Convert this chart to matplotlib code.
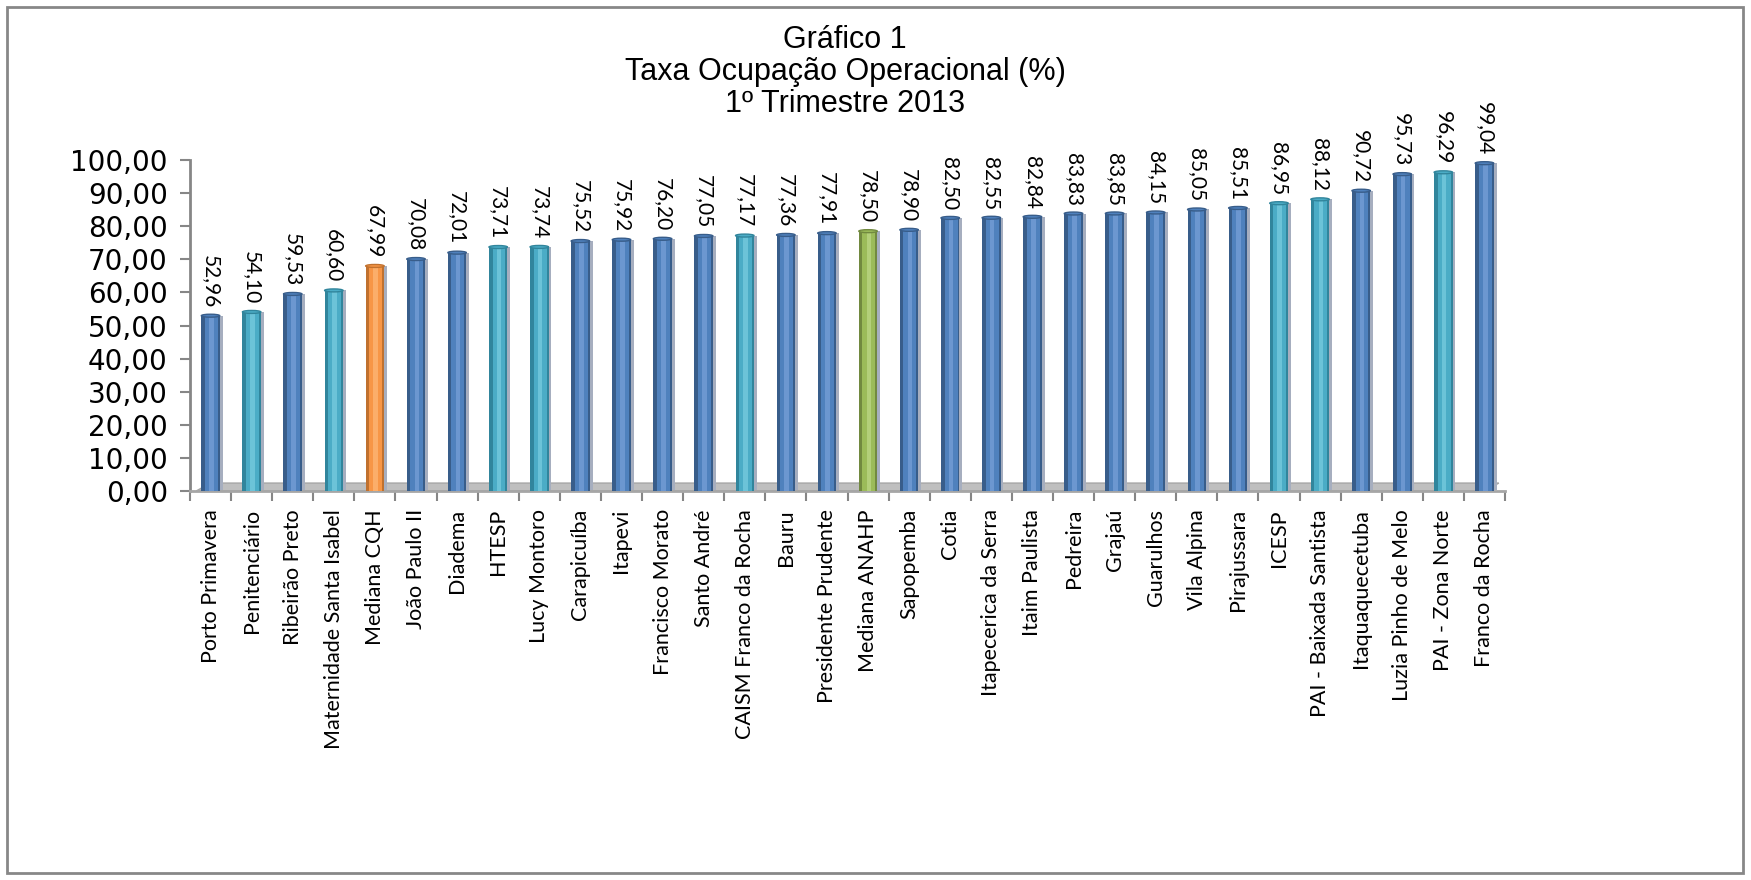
import matplotlib
matplotlib.use("Agg")
import matplotlib.pyplot as plt
from matplotlib.patches import Rectangle, Polygon, Ellipse
import numpy as np

# dados do gráfico
unidades = ["Porto Primavera", "Penitenciário", "Ribeirão Preto", "Maternidade Santa Isabel",
            "Mediana CQH", "João Paulo II", "Diadema", "HTESP", "Lucy Montoro", "Carapicuíba",
            "Itapevi", "Francisco Morato", "Santo André", "CAISM Franco da Rocha", "Bauru",
            "Presidente Prudente", "Mediana ANAHP", "Sapopemba", "Cotia", "Itapecerica da Serra",
            "Itaim Paulista", "Pedreira", "Grajaú", "Guarulhos", "Vila Alpina", "Pirajussara",
            "ICESP", "PAI - Baixada Santista", "Itaquaquecetuba", "Luzia Pinho de Melo",
            "PAI - Zona Norte", "Franco da Rocha"]
taxas = [52.96, 54.10, 59.53, 60.60, 67.99, 70.08, 72.01, 73.71, 73.74, 75.52,
         75.92, 76.20, 77.05, 77.17, 77.36, 77.91, 78.50, 78.90, 82.50, 82.55,
         82.84, 83.83, 83.85, 84.15, 85.05, 85.51, 86.95, 88.12, 90.72, 95.73,
         96.29, 99.04]
# grupo de cor de cada barra: a = azul, c = ciano, o = laranja, g = verde
grupos = ["a", "c", "a", "c", "o", "a", "a", "c", "c", "a",
          "a", "a", "a", "c", "a", "a", "g", "a", "a", "a",
          "a", "a", "a", "a", "a", "a", "c", "c", "a", "a",
          "c", "a"]
yticks = [0, 10, 20, 30, 40, 50, 60, 70, 80, 90, 100]

cores = {
    "a": ("#4F81BD", "#6C97D0", "#385D8A"),
    "c": ("#4BACC6", "#6CC3D8", "#31859C"),
    "o": ("#F79646", "#FBAE6A", "#C0712F"),
    "g": ("#9BBB59", "#B3CF7A", "#71893F"),
}

fig = plt.figure(figsize=(17.51, 8.80), dpi=100)
fig.patches.append(Rectangle((7 / 1751, 7 / 880), 1736 / 1751, 866 / 880,
                             transform=fig.transFigure, fill=False,
                             edgecolor="#878787", linewidth=2))

ax = fig.add_axes([190 / 1751, 389 / 880, 1315 / 1751, 331 / 880])

x = np.arange(len(taxas))
w = 0.45

# piso cinza
xl, xr = -0.35, 31.35
ax.add_patch(Polygon([(xl, 0), (xr - 0.35, 0), (xr, 2.4), (xl + 0.35, 2.4)],
                     closed=True, facecolor="#BFBFBF", edgecolor="#A6A6A6",
                     linewidth=1, zorder=1))

for xi, v, g in zip(x, taxas, grupos):
    base, claro, escuro = cores[g]
    # sombra
    ax.bar(xi + 0.07, v - 0.3, width=w, bottom=0.3, color="#A6AEBF", zorder=2)
    ax.bar(xi, v, width=w, color=escuro, zorder=3)
    ax.bar(xi + 0.02, v, width=w * 0.7, color=base, zorder=4)
    ax.bar(xi + 0.02, v, width=w * 0.25, color=claro, zorder=5)
    ax.add_patch(Ellipse((xi, v), w, 0.9, facecolor=base, edgecolor=escuro,
                         linewidth=1, zorder=6))
    ax.text(xi, v + 2.4, f"{v:.2f}".replace(".", ","), rotation=270,
            ha="center", va="bottom", fontsize=15, family="Lato", zorder=7)

ax.set_xlim(xl, xr)
ax.set_ylim(0, 100)
ax.set_yticks(yticks)
ax.set_yticklabels([f"{t:.2f}".replace(".", ",") for t in yticks],
                   fontsize=20, family="DejaVu Sans")
ax.set_xticks(x)
ax.set_xticklabels(unidades, rotation=90, fontsize=15.5, family="Lato")
ax.set_xticks(np.arange(len(taxas) + 1) - 0.5, minor=True)
ax.tick_params(axis="x", which="major", length=0, pad=13)
ax.tick_params(axis="x", which="minor", length=7, color="#868686", width=1.5)
ax.tick_params(axis="y", length=7, color="#868686", width=1.5, pad=9)

for s in ["top", "right"]:
    ax.spines[s].set_visible(False)
ax.spines["left"].set_color("#868686")
ax.spines["left"].set_linewidth(2)
ax.spines["bottom"].set_color("#A6A6A6")
ax.spines["bottom"].set_linewidth(2)

fig.text(845 / 1751, 1 - 72 / 880, "Gráfico 1\nTaxa Ocupação Operacional (%)\n1º Trimestre 2013",
         ha="center", va="center", fontsize=22, family="Liberation Sans",
         linespacing=1.1)

fig.savefig("out.png", dpi=100)
